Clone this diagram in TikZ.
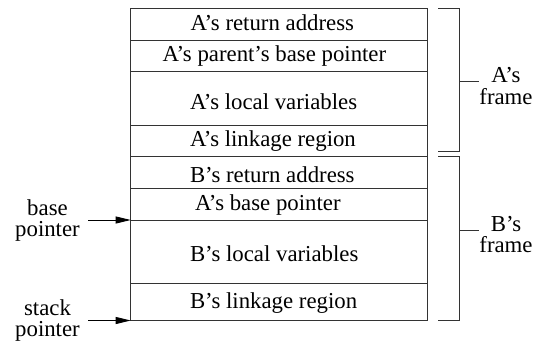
\documentclass[tikz,border=0pt]{standalone}
\usepackage{fontspec}
\setmainfont{Liberation Serif}
\newfontfamily\tmsfont{Liberation Serif}
\usetikzlibrary{arrows.meta}
\begin{document}
\begin{tikzpicture}[x=1pt,y=-1pt,
  every node/.style={font=\tmsfont\fontsize{22.8}{21.7}\selectfont, inner sep=0pt, outer sep=0pt},
  cell/.style={draw=black!80, line width=0.9pt, minimum width=296.6pt},
  celltext/.style={anchor=base west},
  brk/.style={draw=black!80, line width=0.9pt},
  ptr/.style={draw=black, line width=0.9pt, -{Triangle[length=15pt,width=7pt]}},
  side/.style={align=center}]
\useasboundingbox (0,0) rectangle (544,343);
% cells
\node[cell, minimum height=31.7pt] (A1) at (279,24.15) {};
\node[cell, minimum height=31pt]   (A2) at (279,55.5) {};
\node[cell, minimum height=54.5pt] (A3) at (279,98.25) {};
\node[cell, minimum height=31pt]   (A4) at (279,141) {};
\node[cell, minimum height=31.8pt] (B1) at (279,172.4) {};
\node[cell, minimum height=31.7pt] (B2) at (279,204.15) {};
\node[cell, minimum height=63.5pt] (B3) at (279,251.75) {};
\node[cell, minimum height=37pt]   (B4) at (279,302) {};
% texts
\node[celltext] (tA1) at (190.7,30) {A’s return address};
\node[celltext] (tA2) at (162.7,61) {A’s parent’s base pointer};
\node[celltext] (tA3) at (190,109.3) {A’s local variables};
\node[celltext] (tA4) at (190,146.7) {A’s linkage region};
\node[celltext] (tB1) at (190,182.3) {B’s return address};
\node[celltext] (tB2) at (195,210) {A’s base pointer};
\node[celltext] (tB3) at (190,261.7) {B’s local variables};
\node[celltext] (tB4) at (190,308.3) {B’s linkage region};
% brackets
\coordinate (aTop) at (438,8.3);
\coordinate (aBot) at (438,151);
\coordinate (bTop) at (438,156.7);
\coordinate (bBot) at (438,320.5);
\draw[brk] (aTop) -- ++(21,0) |- (aBot);
\draw[brk] (bTop) -- ++(21,0) |- (bBot);
\node[side] (aLab) at (506,86) {A’s\\frame};
\node[side] (bLab) at (506,234.5) {B’s\\frame};
\coordinate (aTick) at (459,81.7);
\coordinate (bTick) at (459,230);
\draw[brk] (aTick) -- (aLab.west |- aTick);
\draw[brk] (bTick) -- (bLab.west |- bTick);
% pointers
\node[side] (bpLab) at (47.5,220.5) {base\\pointer};
\node[side] (spLab) at (47.5,320.5) {stack\\pointer};
\coordinate (bpStart) at (88,220);
\coordinate (spStart) at (88,320.5);
\draw[ptr] (bpStart) -- (B3.north west);
\draw[ptr] (spStart) -- (B4.south west);
\end{tikzpicture}
\end{document}
